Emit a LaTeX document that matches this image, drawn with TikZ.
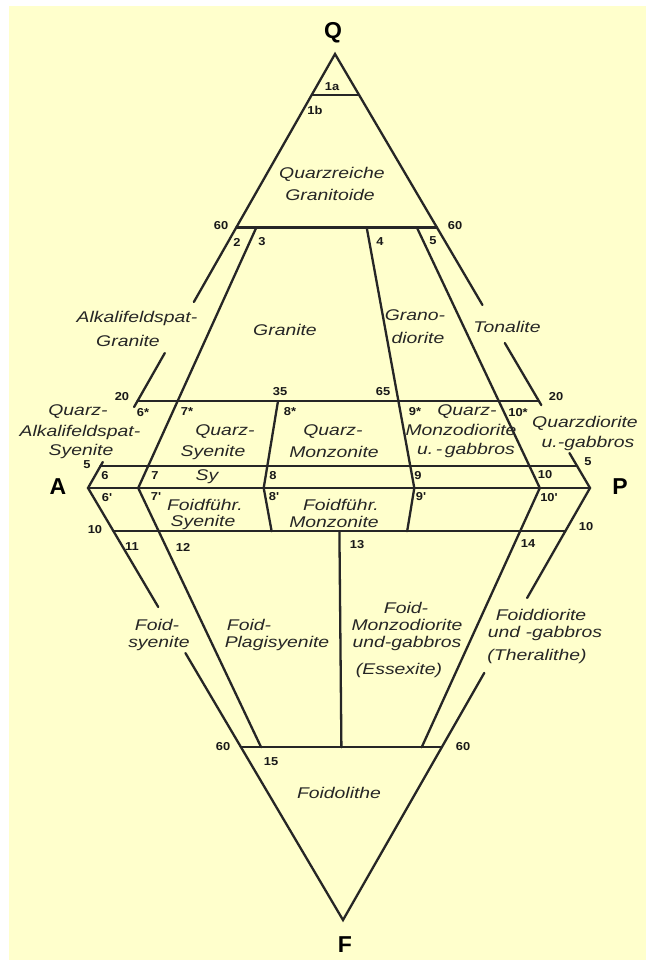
\documentclass[tikz,border=0pt]{standalone}
\usepackage{fontspec}
\setmainfont{Liberation Sans}
\newfontfamily\labfont[FakeStretch=1.25]{Liberation Sans}
\newfontfamily\numfont[FakeStretch=1.12]{Liberation Sans}
\usetikzlibrary{calc}
\definecolor{bgyellow}{HTML}{FFFFCC}
\begin{document}
\begin{tikzpicture}[x=1pt,y=-1pt,
  ln/.style={line width=2.3pt, black!85, line cap=round},
  nm/.style={font=\labfont\itshape\fontsize{15.5}{16}\selectfont, text=black!85, inner sep=0pt},
  num/.style={font=\numfont\bfseries\fontsize{11.5}{12}\selectfont, text=black!90, inner sep=0pt},
  big/.style={font=\bfseries\fontsize{23}{24}\selectfont, inner sep=0pt}]
\useasboundingbox (0,0) rectangle (646,960);
\fill[white] (0,0) rectangle (646,960);
\fill[bgyellow] (9,6) rectangle (646,960);
% corners
\coordinate (Q) at (335,54);
\coordinate (A) at (88,488);
\coordinate (P) at (590,488);
\coordinate (F) at (343,920);
% base points on A-P
\coordinate (b10) at ($(A)!0.10!(P)$);
\coordinate (b35) at ($(A)!0.35!(P)$);
\coordinate (b50) at ($(A)!0.50!(P)$);
\coordinate (b65) at ($(A)!0.65!(P)$);
\coordinate (b90) at ($(A)!0.90!(P)$);
% radial end points
\coordinate (u10t) at ($(b10)!0.6!(Q)$);
\coordinate (u35t) at ($(b35)!0.2!(Q)$);
\coordinate (u65t) at ($(b65)!0.6!(Q)$);
\coordinate (u90t) at ($(b90)!0.6!(Q)$);
\coordinate (l10b) at ($(b10)!0.6!(F)$);
\coordinate (l35b) at ($(b35)!0.1!(F)$);
\coordinate (l65b) at ($(b65)!0.1!(F)$);
\coordinate (l90b) at ($(b90)!0.6!(F)$);
\coordinate (l50t) at ($(b50)!0.1!(F)$);
\coordinate (l50b) at ($(b50)!0.6!(F)$);
% edge points
\coordinate (L91) at ($(A)!0.9055!(Q)$); \coordinate (R91) at ($(P)!0.9055!(Q)$);
\coordinate (L60) at ($(A)!0.6!(Q)$);    \coordinate (R60) at ($(P)!0.6!(Q)$);
\coordinate (L20) at ($(A)!0.2!(Q)$);    \coordinate (R20) at ($(P)!0.2!(Q)$);
\coordinate (L05) at ($(A)!0.05!(Q)$);   \coordinate (R05) at ($(P)!0.05!(Q)$);
\coordinate (LF10) at ($(A)!0.1!(F)$);   \coordinate (RF10) at ($(P)!0.1!(F)$);
\coordinate (LF60) at ($(A)!0.6!(F)$);   \coordinate (RF60) at ($(P)!0.6!(F)$);
% gaps in the outer edges
\coordinate (Lg1) at ($(A)!0.4286!(Q)$); \coordinate (Lg2) at ($(A)!0.311!(Q)$);
\coordinate (Lg3) at ($(A)!0.1866!(Q)$); \coordinate (Lg4) at ($(A)!0.06!(Q)$);
\coordinate (Rg1) at ($(P)!0.4217!(Q)$); \coordinate (Rg2) at ($(P)!0.334!(Q)$);
\coordinate (Rg3) at ($(P)!0.191!(Q)$);  \coordinate (Rg4) at ($(P)!0.0806!(Q)$);
\coordinate (LFg1) at ($(A)!0.2755!(F)$); \coordinate (LFg2) at ($(A)!0.382!(F)$);
\coordinate (RFg1) at ($(P)!0.2546!(F)$); \coordinate (RFg2) at ($(P)!0.428!(F)$);
% outer edges
\draw[ln] (L60) -- (Q) -- (R60);
\draw[ln] (L60) -- (Lg1) (Lg2) -- (Lg3) (Lg4) -- (A) -- (LFg1) (LFg2) -- (F) -- (RFg2)
          (RFg1) -- (P) -- (Rg4) (Rg3) -- (Rg2) (Rg1) -- (R60);
% horizontal lines
\draw[ln] (L91) -- (R91);
\draw[ln] (L60) -- (R60);
\draw[ln] (L20) -- (R20);
\draw[ln] (L05) -- (R05);
\draw[ln] (A) -- (P);
\draw[ln] (LF10) -- (RF10);
\draw[ln] (LF60) -- (RF60);
% radial lines
\draw[ln] (u10t) -- (b10) -- (l10b);
\draw[ln] (u35t) -- (b35) -- (l35b);
\draw[ln] (u65t) -- (b65) -- (l65b);
\draw[ln] (u90t) -- (b90) -- (l90b);
\draw[ln] (l50t) -- (l50b);
% corner letters
\node[big] (tQ) at (333,33) {Q};
\node[big] (tA) at (58,487) {A};
\node[big] (tP) at (620,487) {P};
\node[big] (tF) at (345,945) {F};
% percentages
\node[num] (p60a) at (221,226) {60};
\node[num] (p60b) at (455,226) {60};
\node[num] (p20a) at (122,397) {20};
\node[num] (p20b) at (556,397) {20};
\node[num] (p35) at (280,392) {35};
\node[num] (p65) at (383,392) {65};
\node[num] (p5a) at (87,465) {5};
\node[num] (p5b) at (588,462) {5};
\node[num] (p10a) at (95,530) {10};
\node[num] (p10b) at (586,527) {10};
\node[num] (p60c) at (223,747) {60};
\node[num] (p60d) at (463,747) {60};
% field numbers
\node[num] (f1a) at (332,87) {1a};
\node[num] (f1b) at (315,110) {1b};
\node[num] (f2) at (237,242) {2};
\node[num] (f3) at (262,242) {3};
\node[num] (f4) at (380,242) {4};
\node[num] (f5) at (433,241) {5};
\node[num] (f6s) at (143,413) {6*};
\node[num] (f7s) at (187,412) {7*};
\node[num] (f8s) at (290,412) {8*};
\node[num] (f9s) at (415,412) {9*};
\node[num] (f10s) at (518,413) {10*};
\node[num] (f6) at (105,476) {6};
\node[num] (f7) at (155,476) {7};
\node[num] (f8) at (273,476) {8};
\node[num] (f9) at (418,476) {9};
\node[num] (f10) at (545,475) {10};
\node[num] (f6p) at (107,498) {6'};
\node[num] (f7p) at (156,497) {7'};
\node[num] (f8p) at (274,497) {8'};
\node[num] (f9p) at (421,497) {9'};
\node[num] (f10p) at (549,498) {10'};
\node[num] (f11) at (132,547) {11};
\node[num] (f12) at (183,547) {12};
\node[num] (f13) at (357,545) {13};
\node[num] (f14) at (528,544) {14};
\node[num] (f15) at (271,762) {15};
% rock names
\node[nm] (n1a) at (332,174) {Quarzreiche};
\node[nm] (n1b) at (330,195) {Granitoide};
\node[nm] (n2a) at (137,318) {Alkalifeldspat-};
\node[nm] (n2b) at (128,341) {Granite};
\node[nm] (n3) at (285,330) {Granite};
\node[nm] (n4a) at (415,315) {Grano-};
\node[nm] (n4b) at (418,338) {diorite};
\node[nm] (n5) at (507,327) {Tonalite};
\node[nm] (n6a) at (78,412) {Quarz-};
\node[nm] (n6b) at (80,432) {Alkalifeldspat-};
\node[nm] (n6c) at (81,451) {Syenite};
\node[nm] (n7a) at (225,432) {Quarz-};
\node[nm] (n7b) at (213,452) {Syenite};
\node[nm] (n8a) at (333,432) {Quarz-};
\node[nm] (n8b) at (334,452) {Monzonite};
\node[nm] (n9a) at (467,412) {Quarz-};
\node[nm] (n9b) at (461,430) {Monzodiorite};
\node[nm] (n9c) at (466,450) {u.\,-\,gabbros};
\node[nm] (n10a) at (585,423) {Quarzdiorite};
\node[nm] (n10b) at (588,443) {u.-gabbros};
\node[nm] (nsy) at (207,477) {Sy};
\node[nm] (n7pa) at (205,505) {Foidführ.};
\node[nm] (n7pb) at (203,522) {Syenite};
\node[nm] (n8pa) at (341,505) {Foidführ.};
\node[nm] (n8pb) at (334,522) {Monzonite};
\node[nm] (n11a) at (157,625) {Foid-};
\node[nm] (n11b) at (159,643) {syenite};
\node[nm] (n12a) at (249,625) {Foid-};
\node[nm] (n12b) at (277,643) {Plagisyenite};
\node[nm] (n13a) at (406,608) {Foid-};
\node[nm] (n13b) at (407,625) {Monzodiorite};
\node[nm] (n13c) at (407,643) {und-gabbros};
\node[nm] (n13d) at (399,670) {(Essexite)};
\node[nm] (n14a) at (541,615) {Foiddiorite};
\node[nm] (n14b) at (545,633) {und -gabbros};
\node[nm] (n14c) at (537,656) {(Theralithe)};
\node[nm] (n15) at (339,793) {Foidolithe};
\end{tikzpicture}
\end{document}
